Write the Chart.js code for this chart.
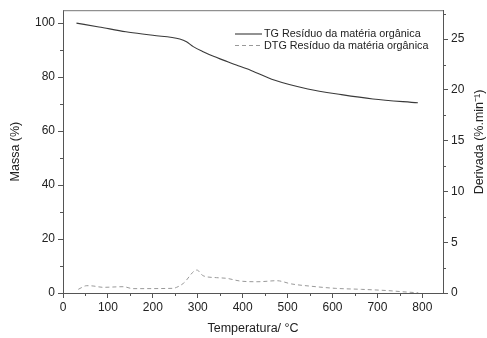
<!DOCTYPE html>
<html>
<head>
<meta charset="utf-8">
<script src="https://cdn.jsdelivr.net/npm/chart.js@4.4.0/dist/chart.umd.min.js"></script>
<style>
html,body{margin:0;padding:0;background:#fff}
</style>
</head>
<body>
<canvas id="mycanvas" width="487" height="338"></canvas>
<script>
// TG curve (mass %, left axis)
var tgTemp=[30,80,140,200,260,275,290,312,335,357,390,420,470,545,620,690,790];
var tgMass=[100,98.6,96.8,95.5,94.1,93.1,91.3,89.4,87.7,86.3,84.2,82.4,78.9,75.6,73.5,71.9,70.5];

// DTG curve (%.min-1, right axis)
var dtgTemp=[34,53,67,89,134,156,245,253,268,298,312,342,365,394,434,476,509,554,606,665,725,754,791];
var dtgRate=[0.36,0.72,0.69,0.56,0.62,0.43,0.46,0.56,0.95,2.26,1.7,1.51,1.44,1.18,1.11,1.21,0.89,0.66,0.46,0.36,0.23,0.13,0.02];

var seriesNames=['TG Resíduo da matéria orgânica','DTG Resíduo da matéria orgânica'];
var xTitle='Temperatura/ °C';
var yTitle='Massa (%)';
var y2Title='Derivada (%.min\u207B\u00B9)';

var xMinor=[50,150,250,350,450,550,650,750];
var yMinor=[10,30,50,70,90];
var y2Minor=[2.5,7.5,12.5,17.5,22.5,27.5];

var fontFam='"Liberation Sans", Arial, sans-serif';
var axisCol='#555';
var textCol='#222';

function pts(xs,ys){
	var out=[];
	for(var i in xs){
		out.push({x:xs[i],y:ys[i]});
	}
	return out;
}

var extras={
	id:'extras',
	afterDraw:function(chart){
		var ctx=chart.ctx;
		var a=chart.chartArea;
		var sx=chart.scales.x, sy=chart.scales.y, sy2=chart.scales.y2;
		ctx.save();
		// top frame
		ctx.strokeStyle='#777';
		ctx.lineWidth=1;
		ctx.beginPath();
		ctx.moveTo(a.left,a.top+0.5);
		ctx.lineTo(a.right,a.top+0.5);
		ctx.stroke();
		// minor ticks
		ctx.strokeStyle=axisCol;
		ctx.beginPath();
		xMinor.forEach(function(v){
			var p=Math.round(sx.getPixelForValue(v))+0.5;
			ctx.moveTo(p,a.bottom);ctx.lineTo(p,a.bottom+3);
		});
		yMinor.forEach(function(v){
			var p=Math.round(sy.getPixelForValue(v))+0.5;
			ctx.moveTo(a.left-3,p);ctx.lineTo(a.left,p);
		});
		y2Minor.forEach(function(v){
			var p=Math.round(sy2.getPixelForValue(v))+0.5;
			ctx.moveTo(a.right,p);ctx.lineTo(a.right+3,p);
		});
		ctx.stroke();
		// right axis title, reading bottom to top
		ctx.fillStyle=textCol;
		ctx.font='12.5px '+fontFam;
		ctx.textAlign='center';
		ctx.textBaseline='middle';
		ctx.translate(480,142);
		ctx.rotate(-Math.PI/2);
		ctx.fillText(y2Title,0,0);
		ctx.restore();
		// legend
		ctx.save();
		ctx.font='10.8px '+fontFam;
		ctx.textBaseline='middle';
		ctx.fillStyle=textCol;
		chart.data.datasets.forEach(function(ds,i){
			var ly=34+i*11.5;
			ctx.strokeStyle=ds.borderColor;
			ctx.lineWidth=ds.borderWidth;
			ctx.setLineDash(ds.borderDash||[]);
			ctx.beginPath();
			ctx.moveTo(235,ly);ctx.lineTo(262,ly);
			ctx.stroke();
			ctx.fillText(ds.label,264,ly+0.5);
		});
		ctx.restore();
	}
};

var ctx=document.getElementById('mycanvas');
var chart=new Chart(ctx,{
	type:'line',
	data:{
		datasets:[
			{
				label:seriesNames[0],
				data:pts(tgTemp,tgMass),
				borderColor:'#3a3a3a',
				borderWidth:1.1,
				pointRadius:0,
				cubicInterpolationMode:'monotone',
				yAxisID:'y'
			},
			{
				label:seriesNames[1],
				data:pts(dtgTemp,dtgRate),
				borderColor:'#999',
				borderWidth:1,
				borderDash:[4,3],
				pointRadius:0,
				cubicInterpolationMode:'monotone',
				yAxisID:'y2'
			}
		]
	},
	options:{
		responsive:false,
		animation:false,
		layout:{padding:{top:10,left:0,right:0,bottom:0}},
		plugins:{legend:{display:false},tooltip:{enabled:false}},
		scales:{
			x:{
				type:'linear',
				min:0,max:846,
				afterFit:function(s){s.height=45;},
				grid:{drawOnChartArea:false,tickLength:5,color:axisCol},
				border:{color:axisCol},
				ticks:{stepSize:100,includeBounds:false,padding:2,color:textCol,font:{family:fontFam,size:12},maxRotation:0},
				title:{display:true,text:xTitle,color:textCol,font:{family:fontFam,size:12.5},padding:{top:0,bottom:2}}
			},
			y:{
				position:'left',
				min:0,max:104.8,
				afterFit:function(s){s.width=63;},
				grid:{drawOnChartArea:false,tickLength:5,color:axisCol},
				border:{color:axisCol},
				ticks:{stepSize:20,includeBounds:false,padding:3,color:textCol,font:{family:fontFam,size:12}},
				title:{display:true,text:yTitle,color:textCol,font:{family:fontFam,size:12.5},padding:{top:8,bottom:0}}
			},
			y2:{
				position:'right',
				min:0,max:27.85,
				afterFit:function(s){s.width=44;},
				grid:{drawOnChartArea:false,tickLength:5,color:axisCol},
				border:{color:axisCol},
				ticks:{stepSize:5,includeBounds:false,padding:3,color:textCol,font:{family:fontFam,size:12}}
			}
		}
	},
	plugins:[extras]
});
</script>
</body>
</html>
